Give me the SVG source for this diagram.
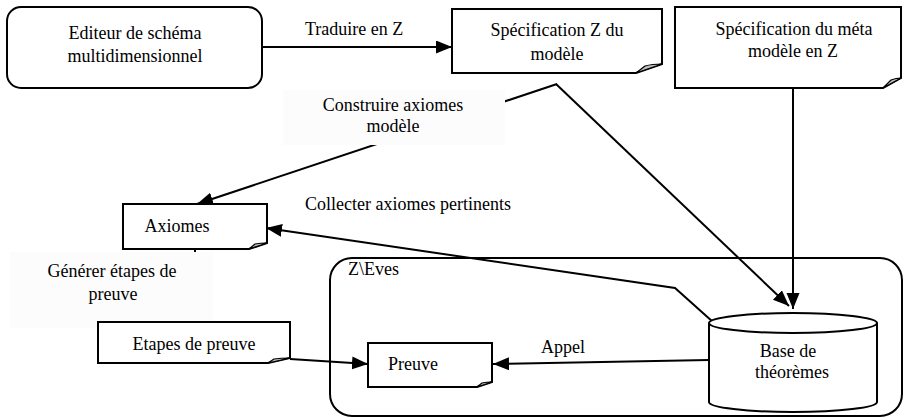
<svg xmlns="http://www.w3.org/2000/svg" width="903" height="418" viewBox="0 0 903 418" font-family="'Liberation Serif', 'Times New Roman', Times, serif">
  <style>
    text { font-family: 'Liberation Serif', 'Times New Roman', Times, serif; font-size: 18px; fill: #000; }
    .mid { text-anchor: middle; }
    .box { fill: #fff; stroke: #000; stroke-width: 2; }
    .fold { fill: #bdbdbd; stroke: #000; stroke-width: 1.2; stroke-linejoin: round; }
    .edge { fill: none; stroke: #000; stroke-width: 2; }
    .arrow { marker-end: url(#head); }
    .lblbg { fill: #fcfcfc; stroke: none; }
  </style>
  <defs>
    <marker id="head" markerUnits="userSpaceOnUse" markerWidth="18" markerHeight="14" refX="16" refY="6.5" orient="auto">
      <path d="M0,0 L16,6.5 L0,13 z" fill="#000"/>
    </marker>
  </defs>

  <rect width="903" height="418" fill="#fff"/>

  <!-- Z\Eves container -->
  <g id="zeves">
    <rect x="330" y="258" width="572" height="158" rx="22" ry="22" class="box"/>
    <text x="348" y="275">Z\Eves</text>
  </g>

  <!-- connectors -->
  <g id="connectors">
    <line x1="262" y1="47" x2="452" y2="47" class="edge arrow"/>
    <line x1="557" y1="84" x2="197" y2="204" class="edge arrow"/>
    <line x1="556" y1="84" x2="789" y2="306" class="edge arrow"/>
    <line x1="793" y1="88" x2="793" y2="309" class="edge arrow"/>
    <polyline points="713,322 675,288 266,228" class="edge arrow"/>
    <line x1="195" y1="249" x2="195" y2="322" class="edge"/>
    <line x1="290" y1="359" x2="368" y2="364" class="edge arrow"/>
    <line x1="709" y1="360" x2="493" y2="364" class="edge arrow"/>
  </g>

  <!-- connector labels -->
  <g id="labels">
    <text x="305" y="35">Traduire en Z</text>
    <rect x="283" y="90" width="222" height="55" class="lblbg"/>
    <text x="393" y="111" class="mid">Construire axiomes</text>
    <text x="393" y="132" class="mid">modèle</text>
    <text x="305" y="210">Collecter axiomes pertinents</text>
    <rect x="10" y="252" width="203" height="76" class="lblbg"/>
    <text x="112" y="277" class="mid">Générer étapes de</text>
    <text x="113" y="300" class="mid">preuve</text>
    <text x="541" y="353">Appel</text>
  </g>

  <!-- nodes -->
  <g id="editeur">
    <rect x="7" y="7" width="255" height="81" rx="14" ry="14" class="box"/>
    <text x="135" y="39" class="mid">Editeur de schéma</text>
    <text x="135" y="62" class="mid">multidimensionnel</text>
  </g>

  <g id="spec-z">
    <path d="M452,9 H662 V64 L636,73 H452 Z" class="box"/>
    <path d="M636,73 L645,66 Q652,64 662,64 Z" class="fold"/>
    <text x="557" y="36" class="mid">Spécification Z du</text>
    <text x="557" y="60" class="mid">modèle</text>
  </g>

  <g id="spec-meta">
    <path d="M675,7 H901 V78 L883,88 H675 Z" class="box"/>
    <path d="M883,88 L891,80 Q896,78 901,78 Z" class="fold"/>
    <text x="794" y="35" class="mid">Spécification du méta</text>
    <text x="793" y="57" class="mid">modèle en Z</text>
  </g>

  <g id="axiomes">
    <path d="M123,204 H267 V243 L249,249 H123 Z" class="box"/>
    <path d="M249,249 L255,244 Q260,243 267,243 Z" class="fold"/>
    <text x="177" y="232" class="mid">Axiomes</text>
  </g>

  <g id="etapes">
    <path d="M98,322 H290 V358 L268,363 H98 Z" class="box"/>
    <path d="M268,363 L274,359 Q281,358 290,358 Z" class="fold"/>
    <text x="194" y="350" class="mid">Etapes de preuve</text>
  </g>

  <g id="preuve">
    <path d="M368,343 H492 V382 L477,387 H368 Z" class="box"/>
    <path d="M477,387 L482,383 Q486,382 492,382 Z" class="fold"/>
    <text x="388" y="370">Preuve</text>
  </g>

  <g id="base">
    <path d="M709,323 V402 A84,10 0 0 0 877,402 V323" class="box"/>
    <ellipse cx="793" cy="323" rx="84" ry="10" class="box"/>
    <text x="788" y="357" class="mid">Base de</text>
    <text x="792" y="378" class="mid">théorèmes</text>
  </g>
</svg>
